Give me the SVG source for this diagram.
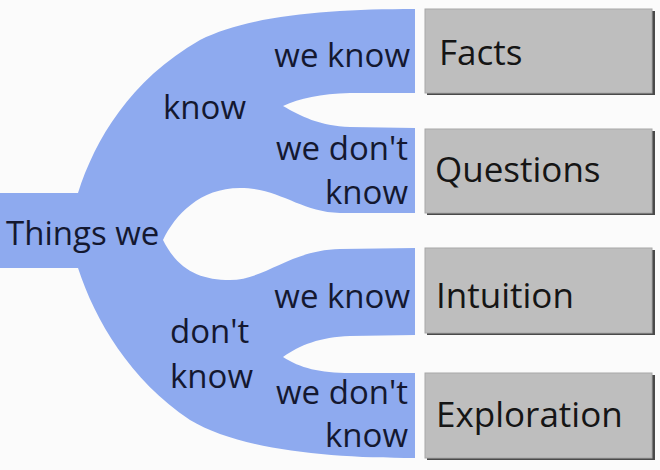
<svg xmlns="http://www.w3.org/2000/svg" width="660" height="470" viewBox="0 0 660 470">
  <style>
    .lbl { font-family: "Open Sans", "Liberation Sans", sans-serif; font-size: 33px; fill: #141830; }
    .r { text-anchor: end; }
    .box { fill: #bebebe; stroke: #a8a8a8; stroke-width: 1; }
    .shadow { fill: #4a4a4a; }
    .btxt { font-family: "Open Sans", "Liberation Sans", sans-serif; font-size: 35px; fill: #151515; }
  </style>
  <rect x="0" y="0" width="660" height="470" fill="#fbfbfb"/>
  <g id="connectors">
    <path fill="#8eaaef" d="M0,193 L78,193 C95,140 130,80 200,40 C250,15 330,9 415,9 L415,93 L350,93 C320,94 300,98 283,106 C300,116 320,126 350,127 L415,128 L415,213 L340,213 C300,212 280,188 240,188 C200,188 175,215 163,240 C178,270 200,280 230,280 C265,280 290,250 340,249 L415,248 L415,335 L350,336 C320,337 300,345 283,357 C300,368 320,373 350,373 L415,373 L415,458 C330,458 240,450 190,420 C130,380 95,320 78,268 L0,268 Z"/>
  </g>
  <g id="root">
    <text class="lbl" x="6" y="245">Things we</text>
  </g>
  <g id="know">
    <text class="lbl" x="163" y="119">know</text>
  </g>
  <g id="dont-know">
    <text class="lbl" x="170" y="343">don't</text>
    <text class="lbl" x="170" y="388">know</text>
  </g>
  <g id="know-we-know">
    <text class="lbl r" x="410" y="67">we know</text>
  </g>
  <g id="know-we-dont-know">
    <text class="lbl r" x="408" y="160">we don't</text>
    <text class="lbl r" x="408" y="204">know</text>
  </g>
  <g id="dontknow-we-know">
    <text class="lbl r" x="410" y="308">we know</text>
  </g>
  <g id="dontknow-we-dont-know">
    <text class="lbl r" x="408" y="404">we don't</text>
    <text class="lbl r" x="408" y="447">know</text>
  </g>
  <g id="facts">
    <rect class="shadow" x="427" y="11" width="228" height="84"/>
    <rect class="box" x="425" y="9" width="227" height="84"/>
    <text class="btxt" x="439" y="65">Facts</text>
  </g>
  <g id="questions">
    <rect class="shadow" x="427" y="131" width="228" height="84"/>
    <rect class="box" x="425" y="129" width="227" height="84"/>
    <text class="btxt" x="435" y="182">Questions</text>
  </g>
  <g id="intuition">
    <rect class="shadow" x="427" y="250" width="228" height="85"/>
    <rect class="box" x="425" y="248" width="227" height="85"/>
    <text class="btxt" x="436" y="308">Intuition</text>
  </g>
  <g id="exploration">
    <rect class="shadow" x="427" y="375" width="228" height="85"/>
    <rect class="box" x="425" y="373" width="227" height="85"/>
    <text class="btxt" x="436" y="427">Exploration</text>
  </g>
</svg>
